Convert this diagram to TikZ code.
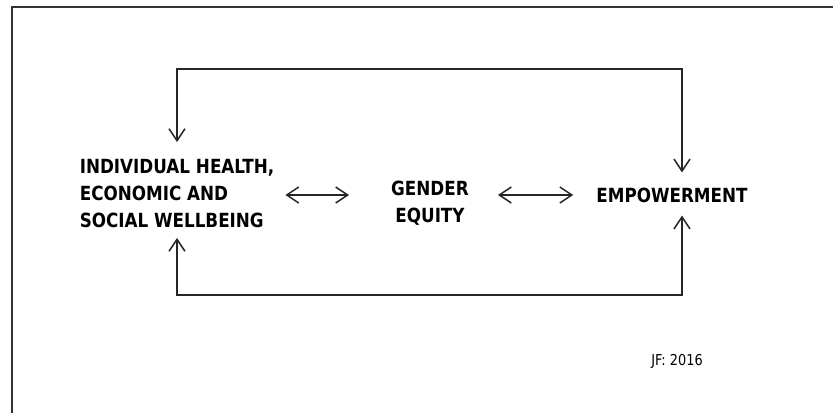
\documentclass[tikz,border=0pt]{standalone}
\usepackage{fontspec}
\setmainfont{DejaVu Sans}[FakeStretch=0.86]
\usetikzlibrary{arrows.meta}

\begin{document}
\begin{tikzpicture}[x=1pt, y=-1pt,
    etichetta/.style={font=\fontsize{19.5}{27}\selectfont\bfseries, inner sep=0pt},
    freccia/.style={{Straight Barb[length=12pt,width=16pt]}-{Straight Barb[length=12pt,width=16pt]},
        line width=1.5pt, black!85}]
    \useasboundingbox (0,0) rectangle (833,413);

    % Cornice
    \draw[line width=2pt, black!80] (833,7) -| (12,413);

    % Blocchi di testo
    \node[etichetta, align=left] (salute) at (177,193.5) {INDIVIDUAL HEALTH,\\ECONOMIC AND\\SOCIAL WELLBEING};
    \node[etichetta, align=center] (genere) at (430,203) {GENDER\\EQUITY};
    \node[etichetta] (potere) at (672,195) {EMPOWERMENT};
    \node[font=\fontsize{15}{18}\selectfont] (firma) at (677,361) {JF: 2016};

    % Linee di collegamento
    \coordinate (sopra) at (0,69);
    \coordinate (sotto) at (0,295);
    \draw[freccia, shorten <=17pt, shorten >=15pt] (salute.north) -- (salute.north |- sopra)
        -| ([xshift=10pt]potere.north);
    \draw[freccia, shorten <=10pt, shorten >=13pt] (salute.south) -- (salute.south |- sotto)
        -| ([xshift=10pt]potere.south);

    % Frecce doppie
    \draw[freccia, shorten <=11pt, shorten >=42pt] (salute.east |- potere) -- (genere.west |- potere);
    \draw[freccia, shorten <=29pt, shorten >=23pt] (genere.east |- potere) -- (potere.west);
\end{tikzpicture}
\end{document}
